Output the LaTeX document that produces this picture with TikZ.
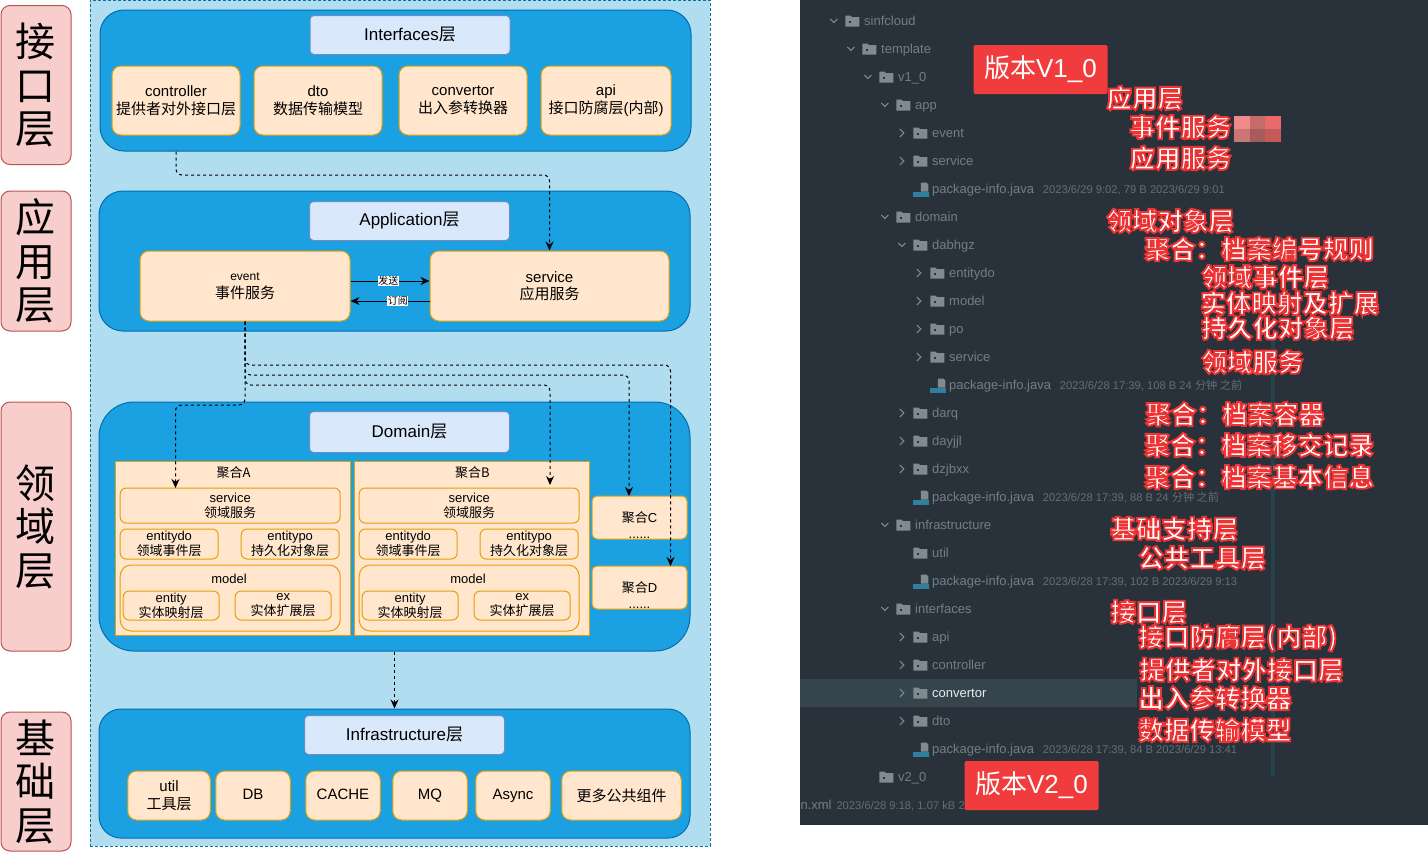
\documentclass[tikz,border=0pt]{standalone}
\usepackage{fontspec}
\setmainfont{Liberation Sans}
\newfontfamily\zhfont{Noto Sans CJK SC}
\usetikzlibrary{positioning, arrows.meta}
\newcommand{\zh}[1]{{\zhfont #1}}
\newcommand{\glow}[1]{\special{pdf:code 2 Tr 1.9 w 0.93 0.2 0.2 RG}#1\special{pdf:code 0 Tr}}
\definecolor{paleblue}{HTML}{B1DDF0}
\definecolor{paleedge}{HTML}{10739E}
\definecolor{layerblue}{HTML}{1BA1E2}
\definecolor{layeredge}{HTML}{006EAF}
\definecolor{titlefill}{HTML}{DAE8FC}
\definecolor{titleedge}{HTML}{6C8EBF}
\definecolor{partfill}{HTML}{FFE6CC}
\definecolor{partedge}{HTML}{E3A008}
\definecolor{sidefill}{HTML}{F8CECC}
\definecolor{sideedge}{HTML}{B85450}
\definecolor{panel}{HTML}{29323A}
\definecolor{panelrow}{HTML}{36454D}
\definecolor{scrollbar}{HTML}{24444A}
\definecolor{treetext}{HTML}{717F85}
\definecolor{metatext}{HTML}{616F75}
\definecolor{foldergrey}{HTML}{7E8B90}
\definecolor{filetint}{HTML}{2E7FA0}
\definecolor{badge}{HTML}{F03C3C}
\tikzset{
  sidelabel/.style={draw=sideedge, fill=sidefill, rounded corners=9, minimum width=70, inner sep=0,
    align=center, font=\zhfont\fontsize{40}{43.5}\selectfont},
  layerbox/.style={draw=layeredge, fill=layerblue, minimum width=591, inner sep=0},
  titlebox/.style={draw=titleedge, fill=titlefill, rounded corners=4, minimum width=200, minimum height=39,
    inner sep=0, font=\fontsize{17}{19}\selectfont},
  partbox/.style={draw=partedge, fill=partfill, rounded corners=9, inner sep=0, align=center,
    font=\fontsize{15}{17.5}\selectfont},
  oneline/.style={text height=11, text depth=3},
  smallbox/.style={draw=partedge, fill=partfill, rounded corners=6, inner sep=0, align=center,
    font=\fontsize{13}{15}\selectfont},
  groupbox/.style={draw=partedge, fill=partfill, inner sep=0, minimum width=234.5, minimum height=174},
  plaintext/.style={inner sep=0, align=center, font=\fontsize{13}{15}\selectfont},
  dashline/.style={draw, dash pattern=on 3pt off 3pt, rounded corners=6, -{Stealth[length=9pt,width=8pt]}},
  sendline/.style={draw, -{Stealth[length=9pt,width=8pt]}},
  sendtext/.style={fill=white, inner sep=0.5, font=\zhfont\fontsize{10}{11}\selectfont},
  treetxt/.style={anchor=base west, inner sep=0, text=treetext, font=\fontsize{13}{15}\selectfont},
  metatxt/.style={anchor=base west, inner sep=0, text=metatext, font=\fontsize{11.2}{13}\selectfont},
  redtext/.style={anchor=west, inner sep=0, text=white, font=\zhfont\bfseries\fontsize{25.5}{28}\selectfont},
  badgebox/.style={fill=badge, rounded corners=1.5, minimum width=134, minimum height=49, inner sep=0,
    text=white, font=\fontsize{26}{28}\selectfont},
}
% one folder row of the tree: level, y, name
\newcommand{\folderrow}[3]{
  \begin{scope}[shift={(845.4+17*#1,#2)}]
    \fill[foldergrey] (0,-5.5) -- (5,-5.5) -- (6.5,-4) -- (14,-4) -- (14,5.5) -- (0,5.5) -- cycle;
    \fill[panel] (3.5,-0.5) rectangle (6,2);
    \node[treetxt] (row#2) at (18.3,4.5) {#3};
  \end{scope}
}
\newcommand{\rowdown}[3]{
  \draw[foldergrey, line width=1.1pt] (845.4+17*#1-15,#2-2) -- (845.4+17*#1-11.5,#2+1.5) -- (845.4+17*#1-8,#2-2);
  \folderrow{#1}{#2}{#3}
}
\newcommand{\rowright}[3]{
  \draw[foldergrey, line width=1.1pt] (845.4+17*#1-13.5,#2-4) -- (845.4+17*#1-9.5,#2) -- (845.4+17*#1-13.5,#2+4);
  \folderrow{#1}{#2}{#3}
}
\newcommand{\rowfile}[3]{
  \begin{scope}[shift={(845.4+17*#1,#2)}]
    \fill[foldergrey] (7.5,-6.5) -- (13,-6.5) -- (15,-4.5) -- (15,2.7) -- (7.5,2.7) -- cycle;
    \fill[filetint] (0,2.7) rectangle (15.5,8);
    \node[treetxt] (row#2) at (18.3,4.5) {package-info.java};
    \node[metatxt] (meta#2) at (129,4.5) {#3};
  \end{scope}
}
\begin{document}
\begin{tikzpicture}[x=1pt, y=-1pt, line width=1pt]
\useasboundingbox (0,0) rectangle (1428,852);

% left part, the layers
\node[draw=paleedge, fill=paleblue, densely dashed, minimum width=620, minimum height=846, inner sep=0] (backdrop) at (400,423) {};
\node[sidelabel, minimum height=159] (sideI) at (36,85) {接\\口\\层};
\node[sidelabel, minimum height=140] (sideA) at (36,261) {应\\用\\层};
\node[sidelabel, minimum height=249] (sideD) at (36,526.5) {领\\域\\层};
\node[sidelabel, minimum height=139] (sideB) at (36,781.5) {基\\础\\层};

\node[layerbox, rounded corners=24, minimum height=141] (ifaces) at (395.5,80.5) {};
\node[titlebox] (ifacesT) at (410,35) {Interfaces\zh{层}};
\node[partbox, minimum width=128, minimum height=69] (controller) at (176,100.5) {controller\\\zh{提供者对外接口层}};
\node[partbox, minimum width=128, minimum height=69] (dto) at (318,100.5) {dto\\\zh{数据传输模型}};
\node[partbox, minimum width=128, minimum height=69] (convertor) at (463,100.5) {convertor\\\zh{出入参转换器}};
\node[partbox, minimum width=130, minimum height=69] (api) at (606,100.5) {api\\\zh{接口防腐层}(\zh{内部})};

\node[layerbox, rounded corners=24, minimum height=140] (apps) at (394.5,261) {};
\node[titlebox] (appsT) at (409.5,221) {Application\zh{层}};
\node[partbox, minimum width=210, minimum height=70] (event) at (245,286) {{\fontsize{12}{15}\selectfont event}\\\zh{事件服务}};
\node[partbox, minimum width=239, minimum height=70] (appservice) at (549.5,286) {service\\\zh{应用服务}};
\draw[sendline] (event.east |- 0,281) -- (appservice.west |- 0,281) node[sendtext, pos=0.48] (send) {发送};
\draw[sendline] (appservice.west |- 0,301) -- (event.east |- 0,301) node[sendtext, pos=0.4] (subscribe) {订阅};

\node[layerbox, rounded corners=35, minimum height=249] (domain) at (394.5,526.5) {};
\node[titlebox, minimum height=41] (domainT) at (409.5,432) {Domain\zh{层}};
\foreach \agg/\dx in {A/0, B/239} {
  \node[groupbox] (group\agg) at (233.2+\dx,548) {};
  \node[plaintext, font=\zhfont\fontsize{13}{15}\selectfont] (groupT\agg) at (233.5+\dx,473) {聚合\agg};
  \node[smallbox, minimum width=220, minimum height=35] (service\agg) at (230.2+\dx,505.5) {service\\\zh{领域服务}};
  \node[smallbox, minimum width=98, minimum height=30] (entitydo\agg) at (169.2+\dx,544) {entitydo\\\zh{领域事件层}};
  \node[smallbox, minimum width=98, minimum height=30] (entitypo\agg) at (290.2+\dx,544) {entitypo\\\zh{持久化对象层}};
  \node[smallbox, rounded corners=11, minimum width=220, minimum height=66] (model\agg) at (230.2+\dx,598) {};
  \node[plaintext] (modelT\agg) at (229+\dx,578.5) {model};
  \node[smallbox, minimum width=96, minimum height=29] (entity\agg) at (171.2+\dx,605.5) {entity\\\zh{实体映射层}};
  \node[smallbox, minimum width=96, minimum height=29] (ex\agg) at (283.2+\dx,605.5) {ex\\\zh{实体扩展层}};
}
\node[smallbox, rounded corners=5, minimum width=95, minimum height=43] (groupC) at (639.5,517.5) {};
\node[plaintext] (groupCT) at (639.5,525.5) {\zh{聚合}C\\[1pt]......};
\node[smallbox, rounded corners=5, minimum width=95, minimum height=43] (groupD) at (639.5,587.5) {};
\node[plaintext] (groupDT) at (639.5,595.5) {\zh{聚合}D\\[1pt]......};

\node[layerbox, rounded corners=22, minimum height=129] (infra) at (394.5,773.5) {};
\node[titlebox] (infraT) at (404.5,735) {Infrastructure\zh{层}};
\node[partbox, minimum width=82.5, minimum height=49] (util) at (169,795.5) {util\\\zh{工具层}};
\node[partbox, oneline, minimum width=74.5, minimum height=49] (db) at (253,795.5) {DB};
\node[partbox, oneline, minimum width=74.5, minimum height=49] (cache) at (343,795.5) {CACHE};
\node[partbox, oneline, minimum width=74.5, minimum height=49] (mq) at (430,795.5) {MQ};
\node[partbox, oneline, minimum width=74.5, minimum height=49] (async) at (513,795.5) {Async};
\node[partbox, minimum width=119.5, minimum height=49] (more) at (621.5,795.5) {\zh{更多公共组件}};

\coordinate (tipB) at (550,485);
\draw[dashline] (controller |- ifaces.south) -- (176,175) -- (549.5,175) -- (appservice.north);
\draw[dashline] (event.south) -- (245,405) -- (175.5,405) -- (175.5,488);
\draw[dashline] (event.south) -- (245,385) -- (550,385) -- (tipB);
\draw[dashline] (event.south) -- (245,375) -- (629,375) -- (629,496);
\draw[dashline] (event.south) -- (245,365) -- (670.5,365) -- (670.5,566);
\draw[dashline] (domain.south) -- (infra.north);

% right part, the package tree
\fill[panel] (800,0) rectangle (1428,825);
\fill[panelrow] (800,679) rectangle (1137,707);
\fill[scrollbar] (1270.5,335) rectangle (1275,776);
\rowdown{0}{21}{sinfcloud}
\rowdown{1}{49}{template}
\rowdown{2}{77}{v1\_0}
\rowdown{3}{105}{app}
\rowright{4}{133}{event}
\rowright{4}{161}{service}
\rowfile{4}{189}{2023/6/29 9:02, 79 B 2023/6/29 9:01}
\rowdown{3}{217}{domain}
\rowdown{4}{245}{dabhgz}
\rowright{5}{273}{entitydo}
\rowright{5}{301}{model}
\rowright{5}{329}{po}
\rowright{5}{357}{service}
\rowfile{5}{385}{2023/6/28 17:39, 108 B 24 \zh{分钟 之前}}
\rowright{4}{413}{darq}
\rowright{4}{441}{dayjjl}
\rowright{4}{469}{dzjbxx}
\rowfile{4}{497}{2023/6/28 17:39, 88 B 24 \zh{分钟 之前}}
\rowdown{3}{525}{infrastructure}
\folderrow{4}{553}{util}
\rowfile{4}{581}{2023/6/28 17:39, 102 B 2023/6/29 9:13}
\rowdown{3}{609}{interfaces}
\rowright{4}{637}{api}
\rowright{4}{665}{controller}
\rowright{4}{693}{\textcolor{white!85!treetext}{convertor}}
\rowright{4}{721}{dto}
\rowfile{4}{749}{2023/6/28 17:39, 84 B 2023/6/29 13:41}
\folderrow{2}{777}{v2\_0}
\node[treetxt] (pomname) at (800,809.5) {n.xml};
\node[metatxt] (pommeta) at (836,809.5) {2023/6/28 9:18, 1.07 kB 2};

\node[badgebox] (badgeOne) at (1040.5,69.5) {\zh{版本}V1\_0};
\node[badgebox] (badgeTwo) at (1031.5,785.5) {\zh{版本}V2\_0};

\node[redtext] (noteA) at (1106,98) {\glow{应用层}};
\node[redtext] (noteB) at (1129,127) {\glow{事件服务}};
\node[redtext] (noteC) at (1129,158) {\glow{应用服务}};
\foreach \col/\shade in {0/F08A8A, 1/C46C6C, 2/E86A6A} {
  \definecolor{tile}{HTML}{\shade}
  \fill[tile] (1234+15.5*\col,116) rectangle ++(15.5,13);
  \fill[tile!85!black] (1234+15.5*\col,129) rectangle ++(15.5,13);
}
\node[redtext] (noteD) at (1106,221) {\glow{领域对象层}};
\node[redtext] (noteE) at (1144,249) {\glow{聚合：档案编号规则}};
\node[redtext] (noteF) at (1201,277) {\glow{领域事件层}};
\node[redtext] (noteG) at (1200,303) {\glow{实体映射及扩展}};
\node[redtext] (noteH) at (1201,328) {\glow{持久化对象层}};
\node[redtext] (noteI) at (1201,362) {\glow{领域服务}};
\node[redtext] (noteJ) at (1145,414) {\glow{聚合：档案容器}};
\node[redtext] (noteK) at (1144,445) {\glow{聚合：档案移交记录}};
\node[redtext] (noteL) at (1144,477) {\glow{聚合：档案基本信息}};
\node[redtext] (noteM) at (1110,529) {\glow{基础支持层}};
\node[redtext] (noteN) at (1138,558) {\glow{公共工具层}};
\node[redtext] (noteO) at (1110,612) {\glow{接口层}};
\node[redtext] (noteP) at (1138,638) {\glow{接口防腐层(内部)}};
\node[redtext] (noteQ) at (1139,670) {\glow{提供者对外接口层}};
\node[redtext] (noteR) at (1138,698) {\glow{出入参转换器}};
\node[redtext] (noteS) at (1138,730) {\glow{数据传输模型}};
\end{tikzpicture}
\end{document}
